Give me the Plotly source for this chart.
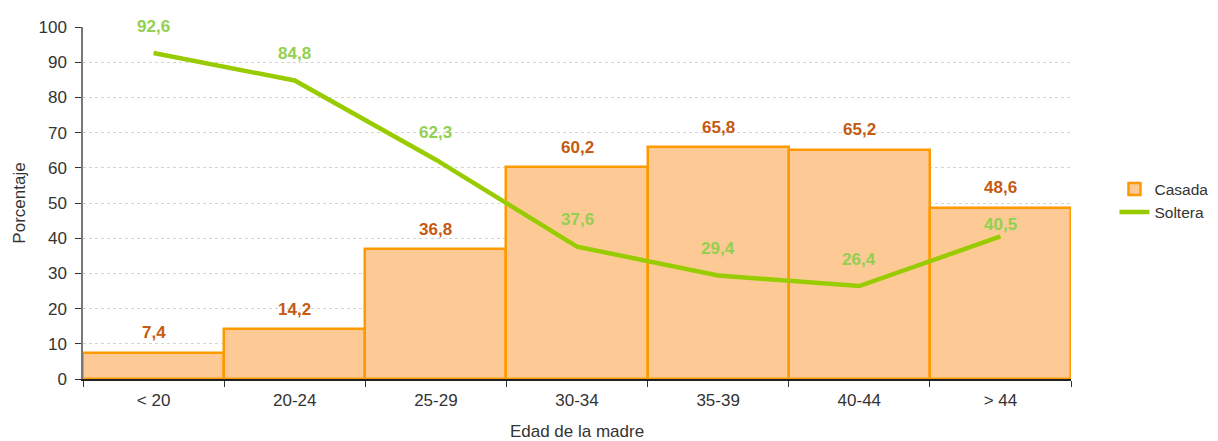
import plotly.graph_objects as go

categories = ["< 20", "20-24", "25-29", "30-34", "35-39", "40-44", "> 44"]
casada = [7.4, 14.2, 36.8, 60.2, 65.8, 65.2, 48.6]
soltera = [92.6, 84.8, 62.3, 37.6, 29.4, 26.4, 40.5]

def fmt(v):
    return f"{v:.1f}".replace(".", ",")

FONT = "Liberation Sans, Arial, sans-serif"

fig = go.Figure()
fig.add_trace(go.Bar(
    x=categories, y=casada, name="Casada",
    marker=dict(color="#fdca96", line=dict(color="#ff9900", width=2.5)),
))
fig.add_trace(go.Scatter(
    x=categories, y=soltera, name="Soltera", mode="lines",
    line=dict(color="#99cc00", width=4.5),
))

for c, v in zip(categories, casada):
    fig.add_annotation(x=c, y=v, text=f"<b>{fmt(v)}</b>", showarrow=False,
                       yshift=20, font=dict(color="#c55a11", size=17, family=FONT))
for i, (c, v) in enumerate(zip(categories, soltera)):
    shift = 12 if i == len(soltera) - 1 else 27
    fig.add_annotation(x=c, y=v, text=f"<b>{fmt(v)}</b>", showarrow=False,
                       yshift=shift, font=dict(color="#92d050", size=17, family=FONT))

fig.update_layout(
    width=1210, height=433,
    margin=dict(l=75, r=147, t=19, b=62, autoexpand=False),
    paper_bgcolor="white", plot_bgcolor="white",
    bargap=0,
    font=dict(family=FONT, size=17, color="#333333"),
    showlegend=True,
    legend=dict(x=1.044, y=0.506, xanchor="left", yanchor="middle",
                font=dict(size=15.5, color="#333333"), tracegroupgap=0,
                borderwidth=0, bgcolor="rgba(0,0,0,0)"),
    xaxis=dict(
        title=dict(text="Edad de la madre", font=dict(size=17), standoff=25),
        showline=True, linecolor="#222222", linewidth=1.5,
        ticks="outside", tickson="boundaries", ticklen=6, tickcolor="#333333",
        ticklabelstandoff=5,
        showgrid=False, range=[-0.5, 6.5], automargin=False,
    ),
    yaxis=dict(
        title=dict(text="Porcentaje", font=dict(size=17), standoff=9),
        range=[0, 100], dtick=10,
        showline=True, linecolor="#777777", linewidth=1.5,
        ticks="outside", ticklen=6, tickcolor="#333333",
        ticklabelstandoff=5,
        showgrid=True, gridcolor="#d4d4d4", griddash="dot", gridwidth=1,
        zeroline=False, automargin=False,
    ),
)

fig.write_html("out.html")
